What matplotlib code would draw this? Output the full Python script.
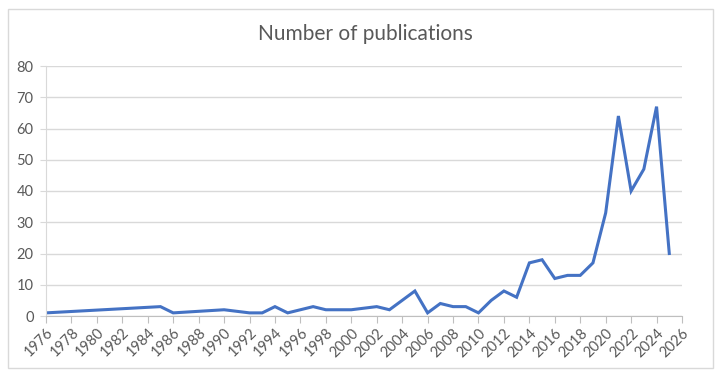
import matplotlib
matplotlib.use("Agg")
import matplotlib.pyplot as plt
from matplotlib.patches import Rectangle

years = [1976, 1985, 1986, 1990, 1992, 1993, 1994, 1995, 1997, 1998, 2000, 2002, 2003,
         2005, 2006, 2007, 2008, 2009, 2010, 2011, 2012, 2013, 2014, 2015, 2016, 2017,
         2018, 2019, 2020, 2021, 2022, 2023, 2024, 2025]
counts = [1, 3, 1, 2, 1, 1, 3, 1, 3, 2, 2, 3, 2,
          8, 1, 4, 3, 3, 1, 5, 8, 6, 17, 18, 12, 13,
          13, 17, 33, 64, 40, 47, 67, 20]
title = "Number of publications"
x_ticks = list(range(1976, 2027, 2))
y_ticks = list(range(0, 81, 10))

plt.rcParams['font.family'] = ['Lato', 'DejaVu Sans']
fig = plt.figure(figsize=(7.2, 3.78), dpi=100)
fig.patches.append(Rectangle((8/720, 1 - 368/378), 705/720, 359/378, transform=fig.transFigure,
                             fill=False, edgecolor='#d9d9d9', linewidth=1))
ax = fig.add_axes([46/720, 1 - 316/378, (682-46)/720, (316-66)/378])
ax.plot(years, counts, color='#4472C4', linewidth=2.2, solid_joinstyle='miter')
ax.set_xlim(1976, 2026)
ax.set_ylim(0, 80)
ax.set_xticks(x_ticks)
ax.set_yticks(y_ticks)
ax.set_xticklabels([str(t) for t in x_ticks], rotation=45, ha='right', rotation_mode='anchor')
ax.tick_params(axis='x', colors='#bfbfbf', labelcolor='#595959', labelsize=10.5, length=5, direction='out', pad=2)
ax.tick_params(axis='y', colors='#d9d9d9', labelcolor='#595959', labelsize=10.5, length=4, pad=5)
ax.grid(axis='y', color='#d9d9d9', linewidth=1)
ax.set_axisbelow(True)
for s in ['top', 'right']:
    ax.spines[s].set_visible(False)
ax.spines['left'].set_color('#d9d9d9')
ax.spines['bottom'].set_color('#bfbfbf')
fig.text(365/720, 1 - 34/378, title, ha='center', va='center', fontsize=15, color='#595959')
fig.savefig('out.png', dpi=100)
